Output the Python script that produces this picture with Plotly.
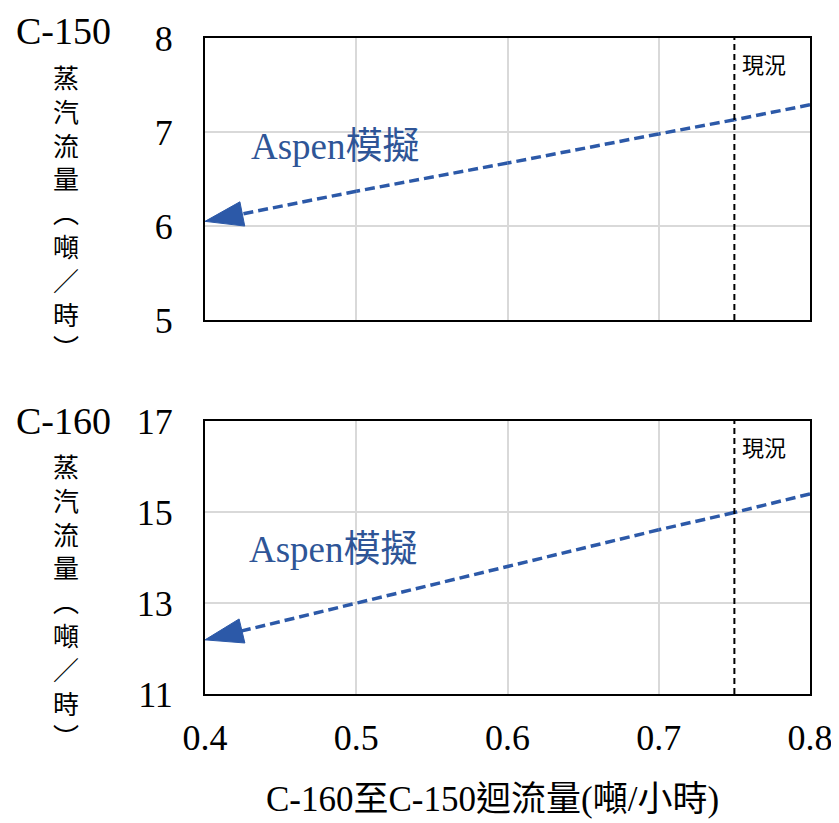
import plotly.graph_objects as go

# ---- data ----
X = [0.4, 0.5, 0.6, 0.7, 0.75, 0.8]
C150_STEAM = [6.05, 6.37, 6.67, 6.98, 7.13, 7.29]
C160_STEAM = [12.19, 12.99, 13.80, 14.61, 14.99, 15.40]
CURRENT_X = 0.75
X_TICKS = [0.4, 0.5, 0.6, 0.7, 0.8]
Y1_TICKS = [5, 6, 7, 8]
Y2_TICKS = [11, 13, 15, 17]
SERIES_LABEL = "Aspen模擬"
CURRENT_LABEL = "現況"
Y_LABEL_CHARS = ["蒸", "汽", "流", "量", "︵", "噸", "／", "時", "︶"]
X_TITLE = "C-160至C-150迴流量(噸/小時)"

BLUE = "#2C59A8"
TEXT_BLUE = "#2E5597"
SERIF = "Liberation Serif, Noto Sans CJK TC"
CJK = "Noto Sans CJK TC"

W, H = 839, 823
OFF = 8  # page body margin
# plot area in page pixels: x 205..810, y 38..694
ML = 205 - OFF
MT = 38 - OFF
MR = W - (810 - OFF)
MB = H - (694 - OFF)
PW = W - ML - MR
PH = H - MT - MB


def px2paper_x(px):
    return (px - OFF - ML) / PW


def px2paper_y(py):
    return (H - MB - (py - OFF)) / PH


fig = go.Figure()

# reversed order so the arrow marker at the last point points left
for xa, ya, vals in [("x", "y", C150_STEAM), ("x2", "y2", C160_STEAM)]:
    xs = X[::-1]
    ys = vals[::-1]
    sizes = [0] * (len(xs) - 1) + [40]
    fig.add_trace(go.Scatter(
        x=xs, y=ys, xaxis=xa, yaxis=ya, mode="lines+markers",
        line=dict(color=BLUE, width=3.5, dash="10px,5px"),
        marker=dict(symbol="arrow", size=sizes, color=BLUE, angleref="previous",
                    opacity=1, line=dict(width=1, color=BLUE)),
        opacity=1,
        cliponaxis=False, showlegend=False, hoverinfo="skip",
    ))

axis_common = dict(
    showline=True, mirror=True, linecolor="black", linewidth=2,
    showgrid=True, gridcolor="#d9d9d9", gridwidth=2, zeroline=False,
    ticks="", automargin=False,
    tickfont=dict(family="Liberation Serif", size=36, color="black"),
)

fig.update_layout(
    width=W, height=H,
    margin=dict(l=ML, r=MR, t=MT, b=MB, autoexpand=False),
    plot_bgcolor="white", paper_bgcolor="white",
    xaxis=dict(domain=[0, 1], anchor="y", range=[0.4, 0.8], tickvals=X_TICKS,
               showticklabels=False, **axis_common),
    yaxis=dict(domain=[0.570, 1], anchor="x", range=[5, 8], tickvals=Y1_TICKS,
               ticklabelstandoff=23, **axis_common),
    xaxis2=dict(domain=[0, 1], anchor="y2", range=[0.4, 0.8], tickvals=X_TICKS,
                ticktext=[f"{v:.1f}" for v in X_TICKS], ticklabelstandoff=11,
                **axis_common),
    yaxis2=dict(domain=[0, 0.416], anchor="x2", range=[11, 17], tickvals=Y2_TICKS,
                ticklabelstandoff=23, **axis_common),
)

# current-state vertical lines
for xr, yr in [("x", "y domain"), ("x2", "y2 domain")]:
    fig.add_shape(type="line", xref=xr, yref=yr, x0=CURRENT_X, x1=CURRENT_X,
                  y0=0, y1=1, line=dict(color="black", width=2, dash="6px,4px"))
    fig.add_annotation(xref=xr, yref=yr, x=CURRENT_X + 0.004, y=0.91,
                       xanchor="left", yanchor="middle", text=CURRENT_LABEL,
                       showarrow=False, font=dict(family=CJK, size=22, color="black"))

# series labels
fig.add_annotation(xref="x", yref="y", x=0.486, y=6.85, text=SERIES_LABEL,
                   showarrow=False, font=dict(family=SERIF, size=37, color=TEXT_BLUE))
fig.add_annotation(xref="x2", yref="y2", x=0.485, y=14.17, text=SERIES_LABEL,
                   showarrow=False, font=dict(family=SERIF, size=37, color=TEXT_BLUE))

# y labels: unit name + vertical text
for name, top_y, start, stop in [("C-150", 31, 80, 343), ("C-160", 421, 463, 737)]:
    fig.add_annotation(xref="paper", yref="paper", x=px2paper_x(63), y=px2paper_y(top_y),
                       text=name, showarrow=False, xanchor="center", yanchor="middle",
                       font=dict(family="Liberation Serif", size=38, color="black"))
    fig.add_annotation(xref="paper", yref="paper", x=px2paper_x(66),
                       y=px2paper_y((start + stop) / 2), text="<br>".join(Y_LABEL_CHARS),
                       showarrow=False, xanchor="center", yanchor="middle",
                       font=dict(family=CJK, size=26, color="black"))

# x title
fig.add_annotation(xref="paper", yref="paper", x=px2paper_x(492), y=px2paper_y(799),
                   text=X_TITLE, showarrow=False, xanchor="center", yanchor="middle",
                   font=dict(family=SERIF, size=35, color="black"))

fig.write_html("out.html")
